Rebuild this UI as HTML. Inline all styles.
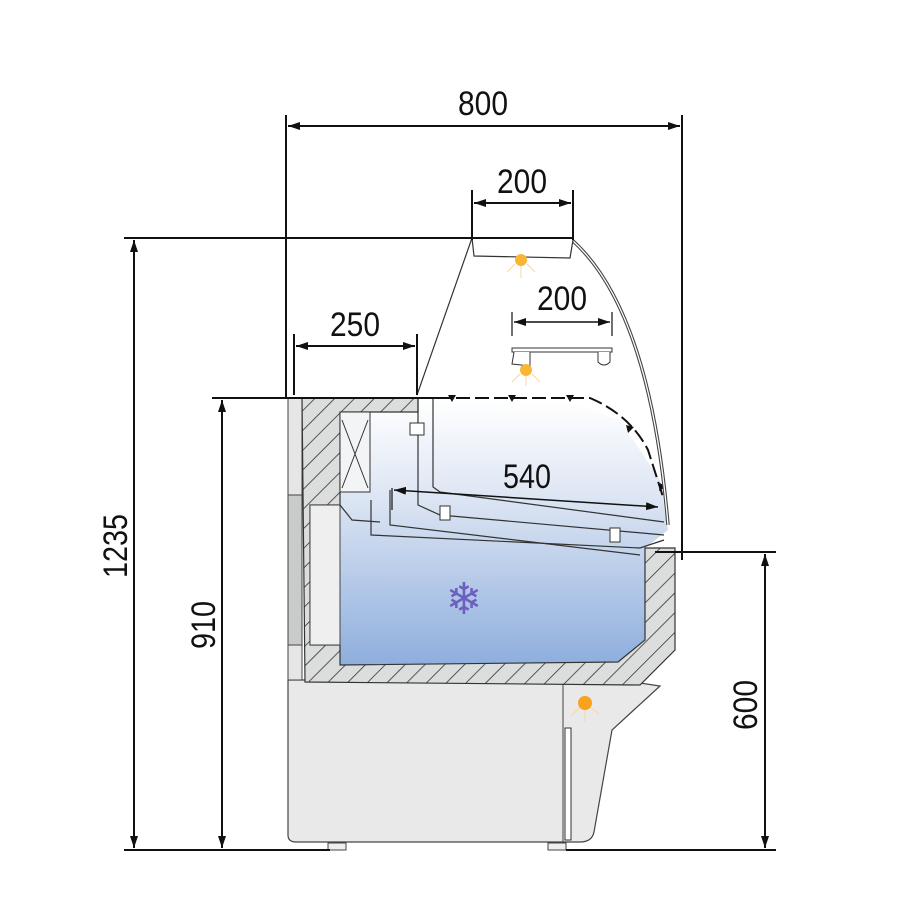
<!DOCTYPE html>
<html><head><meta charset="utf-8"><style>html,body{margin:0;padding:0;background:#fff}svg{display:block}</style></head>
<body>
<svg width="900" height="900" viewBox="0 0 900 900" xmlns="http://www.w3.org/2000/svg">
<defs>
<linearGradient id="blue" x1="0" y1="0" x2="0" y2="1">
<stop offset="0" stop-color="#ffffff"/><stop offset="0.35" stop-color="#dfe7f4"/><stop offset="1" stop-color="#8eaedd"/>
</linearGradient>
<pattern id="hatch" patternUnits="userSpaceOnUse" width="14" height="14" patternTransform="rotate(45)">
<rect width="14" height="14" fill="#dcdedd"/><line x1="0" y1="0" x2="0" y2="14" stroke="#333" stroke-width="1.6"/>
</pattern>
<marker id="ar" markerWidth="12" markerHeight="8" refX="12" refY="4" orient="auto" markerUnits="userSpaceOnUse"><path d="M0,0 L12,4 L0,8 z" fill="#111"/></marker>
<marker id="al" markerWidth="12" markerHeight="8" refX="0" refY="4" orient="auto" markerUnits="userSpaceOnUse"><path d="M12,0 L0,4 L12,8 z" fill="#111"/></marker>
</defs>

<!-- base cabinet -->
<path d="M288,680 L288,835 Q288,842 296,842 L580,842 Q592,842 594,832 L612,730 L660,686 L620,680 Z" fill="#e8e9e8" stroke="#444" stroke-width="1.2"/>
<line x1="563" y1="684" x2="563" y2="842" stroke="#444" stroke-width="1"/>
<rect x="565" y="728" width="6" height="112" fill="#fff" stroke="#333" stroke-width="1"/>
<rect x="328" y="843" width="18" height="7" fill="#eee" stroke="#444"/>
<rect x="548" y="843" width="18" height="7" fill="#eee" stroke="#444"/>

<!-- left outer panel -->
<rect x="288" y="398" width="14" height="282" fill="#e5e6e5" stroke="#444" stroke-width="1"/>
<rect x="288" y="495" width="14" height="150" fill="#c9cbcb" stroke="#444" stroke-width="1"/>

<!-- blue interior -->
<path d="M340,400 L430,400 L560,400 L620,420 L660,480 L668,530 L645,548 L645,640 L618,662 L340,665 Z" fill="url(#blue)"/>

<!-- insulation hatched -->
<path d="M302,398 L418,398 L418,412 L340,412 L340,505 L310,505 L310,645 L340,645 L340,665 L618,662 L645,640 L645,548 L675,548 L675,650 L640,685 L305,682 Z" fill="url(#hatch)" stroke="#333" stroke-width="1.2"/>
<rect x="310" y="505" width="30" height="140" fill="#eeefee" stroke="#444" stroke-width="1"/>

<!-- evaporator box -->
<rect x="340" y="412" width="30" height="80" fill="#f3f4f6" stroke="#333" stroke-width="1"/>
<path d="M342,420 L368,488 M368,420 L342,488" stroke="#333" stroke-width="1"/>

<!-- shelves / inner parts -->
<path d="M418,398 L418,505 L440,515 L664,535" fill="none" stroke="#333" stroke-width="1.2"/>
<path d="M433,398 L433,487 L440,492 L664,522" fill="none" stroke="#333" stroke-width="1.2"/>
<path d="M371,500 L371,535 L640,548 L664,540" fill="none" stroke="#333" stroke-width="1.2"/>
<path d="M390,490 L390,525 L640,555" fill="none" stroke="#333" stroke-width="1.2"/>
<path d="M340,505 L352,520 L380,522" fill="none" stroke="#333" stroke-width="1.2"/>
<rect x="410" y="423" width="14" height="12" fill="#fff" stroke="#333"/>
<rect x="440" y="506" width="10" height="14" fill="#fff" stroke="#333"/>
<rect x="610" y="528" width="10" height="14" fill="#fff" stroke="#333"/>

<!-- dashed air curtain -->
<path d="M418,398 L590,398 Q630,415 648,450 L664,500" fill="none" stroke="#111" stroke-width="2" stroke-dasharray="14,5"/>
<path d="M448,395 l8,0 l-4,7z M508,395 l8,0 l-4,7z M566,395 l8,0 l-4,7z M626,425 l8,2 l-6,6z M660,483 l6,4 l-7,4z" fill="#111"/>

<!-- glass -->
<path d="M472,238 L417,395" fill="none" stroke="#333" stroke-width="1.2"/>
<path d="M572,240 Q650,310 668,525" fill="none" stroke="#444" stroke-width="3.5"/>
<path d="M572,240 Q650,310 668,525" fill="none" stroke="#fff" stroke-width="1.3"/>

<!-- canopy lamp -->
<path d="M472,238 L474,256 L570,258 L573,240" fill="#fff" stroke="#333" stroke-width="1.2"/>
<circle cx="521" cy="260" r="6" fill="#f8b633"/>
<path d="M521,266 v12 M515,264 l-8,8 M527,264 l8,8" stroke="#fbd7a0" stroke-width="1"/>
<!-- shelf lamp -->
<path d="M512,348 L612,348 L612,352 L512,352 Z" fill="#fff" stroke="#333"/>
<path d="M514,352 L512,364 L530,366 L530,352 M598,352 L598,362 Q604,368 610,362 L610,352" fill="#fff" stroke="#333"/>
<circle cx="526" cy="370" r="6" fill="#f8b633"/>
<path d="M526,376 v10 M520,374 l-8,8 M532,374 l8,8" stroke="#fbd7a0" stroke-width="1"/>
<!-- base lamp -->
<circle cx="585" cy="703" r="7" fill="#f8a21e"/>
<path d="M585,710 v12 M579,708 l-8,8 M591,708 l8,6" stroke="#fbd7a0" stroke-width="1"/>

<!-- snowflake -->
<text x="464" y="614" font-family="DejaVu Sans, sans-serif" font-size="44" fill="#6d5fc0" text-anchor="middle">❄</text>

<!-- dimension lines -->
<g stroke="#111" stroke-width="2" fill="none">
<line x1="286" y1="115" x2="286" y2="398"/>
<line x1="682" y1="115" x2="682" y2="560"/>
<line x1="288" y1="126" x2="680" y2="126" marker-start="url(#al)" marker-end="url(#ar)"/>
<line x1="124" y1="238" x2="572" y2="238"/>
<line x1="134" y1="240" x2="134" y2="848" marker-start="url(#al)" marker-end="url(#ar)"/>
<line x1="212" y1="398" x2="440" y2="398"/>
<line x1="222" y1="400" x2="222" y2="848" marker-start="url(#al)" marker-end="url(#ar)"/>
<line x1="124" y1="850" x2="330" y2="850"/>
<line x1="566" y1="850" x2="776" y2="850"/>
<line x1="655" y1="552" x2="776" y2="552"/>
<line x1="765" y1="554" x2="765" y2="848" marker-start="url(#al)" marker-end="url(#ar)"/>
<line x1="472" y1="190" x2="472" y2="240"/>
<line x1="573" y1="190" x2="573" y2="240"/>
<line x1="474" y1="203" x2="571" y2="203" marker-start="url(#al)" marker-end="url(#ar)"/>
<line x1="294" y1="334" x2="294" y2="395"/>
<line x1="417" y1="334" x2="417" y2="395"/>
<line x1="296" y1="346" x2="415" y2="346" marker-start="url(#al)" marker-end="url(#ar)"/>
<line x1="512" y1="312" x2="512" y2="336" stroke-width="1.2"/>
<line x1="612" y1="312" x2="612" y2="336" stroke-width="1.2"/>
<line x1="514" y1="322" x2="610" y2="322" stroke-width="1.5" marker-start="url(#al)" marker-end="url(#ar)"/>
<line x1="392" y1="488" x2="392" y2="510" stroke-width="1.2"/>
<line x1="394" y1="490" x2="658" y2="507" stroke-width="1.5" marker-start="url(#al)" marker-end="url(#ar)"/>
</g>

<g font-family="Liberation Sans, sans-serif" font-size="34" fill="#111" text-anchor="middle">
<text x="483" y="115" textLength="50" lengthAdjust="spacingAndGlyphs">800</text>
<text x="522" y="193" textLength="50" lengthAdjust="spacingAndGlyphs">200</text>
<text x="562" y="310" textLength="50" lengthAdjust="spacingAndGlyphs">200</text>
<text x="355" y="336" textLength="50" lengthAdjust="spacingAndGlyphs">250</text>
<text x="527" y="488" textLength="48" lengthAdjust="spacingAndGlyphs">540</text>
<text transform="translate(127,546) rotate(-90)" textLength="64" lengthAdjust="spacingAndGlyphs">1235</text>
<text transform="translate(215,625) rotate(-90)" textLength="48" lengthAdjust="spacingAndGlyphs">910</text>
<text transform="translate(757,705) rotate(-90)" textLength="50" lengthAdjust="spacingAndGlyphs">600</text>
</g>
</svg>
</body></html>
